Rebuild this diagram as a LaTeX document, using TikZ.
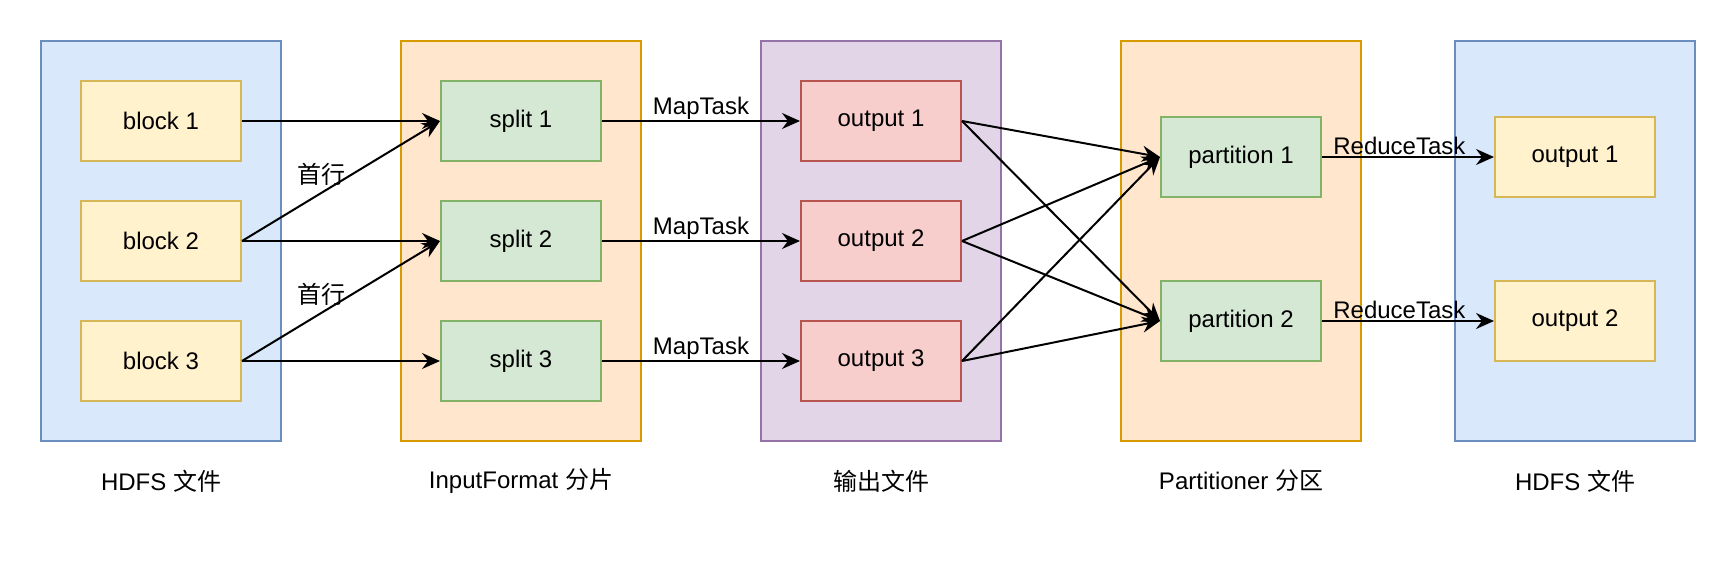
\documentclass[tikz,border=0pt]{standalone}
\usepackage{fontspec}
\setmainfont{Liberation Sans}
\newfontfamily\cjk{Noto Sans CJK SC}
\usetikzlibrary{arrows.meta}

\definecolor{blueFill}{HTML}{DAE8FC}
\definecolor{blueLine}{HTML}{6C8EBF}
\definecolor{yellowFill}{HTML}{FFF2CC}
\definecolor{yellowLine}{HTML}{D6B656}
\definecolor{orangeFill}{HTML}{FFE6CC}
\definecolor{orangeLine}{HTML}{D79B00}
\definecolor{greenFill}{HTML}{D5E8D4}
\definecolor{greenLine}{HTML}{82B366}
\definecolor{purpleFill}{HTML}{E1D5E7}
\definecolor{purpleLine}{HTML}{9673A6}
\definecolor{redFill}{HTML}{F8CECC}
\definecolor{redLine}{HTML}{B85450}

\begin{document}
\begin{tikzpicture}[x=1pt, y=-1pt, font=\fontsize{24}{28}\selectfont,
    group/.style={draw, line width=2pt, minimum width=240pt, minimum height=400pt, inner sep=0pt},
    box/.style={draw, line width=2pt, minimum width=160pt, minimum height=80pt, inner sep=0pt},
    flow/.style={-{Stealth[length=18pt, width=16pt, inset=6pt]}, line width=2pt},
    tag/.style={inner sep=1pt}]
    \useasboundingbox (0,0) rectangle (1736,562);

    % columns
    \node[group, fill=blueFill, draw=blueLine] (hdfsIn) at (161,241) {};
    \node[group, fill=orangeFill, draw=orangeLine] (inputFmt) at (521,241) {};
    \node[group, fill=purpleFill, draw=purpleLine] (mapOut) at (881,241) {};
    \node[group, fill=orangeFill, draw=orangeLine] (partitioner) at (1241,241) {};
    \node[group, fill=blueFill, draw=blueLine] (hdfsOut) at (1575,241) {};

    \node (lblHdfsIn) at (161,481) {HDFS {\cjk 文件}};
    \node (lblInputFmt) at (521,481) {InputFormat {\cjk 分片}};
    \node (lblMapOut) at (881,481) {\cjk 输出文件};
    \node (lblPartitioner) at (1241,481) {Partitioner {\cjk 分区}};
    \node (lblHdfsOut) at (1575,481) {HDFS {\cjk 文件}};

    % blocks, splits, map outputs
    \foreach \i/\y in {1/121, 2/241, 3/361} {
        \node[box, fill=yellowFill, draw=yellowLine] (block\i) at (161,\y) {block \i};
        \node[box, fill=greenFill, draw=greenLine] (split\i) at (521,\y) {split \i};
        \node[box, fill=redFill, draw=redLine] (out\i) at (881,\y) {output \i};
    }

    % partitions and reduce outputs
    \foreach \j/\y in {1/157, 2/321} {
        \node[box, fill=greenFill, draw=greenLine] (part\j) at (1241,\y) {partition \j};
        \node[box, fill=yellowFill, draw=yellowLine] (result\j) at (1575,\y) {output \j};
    }

    \draw[flow] (block1.east) -- (split1.west);
    \draw[flow] (block2.east) -- node[tag, pos=0.4, above=6pt] {\cjk 首行} (split1.west);
    \draw[flow] (block2.east) -- (split2.west);
    \draw[flow] (block3.east) -- node[tag, pos=0.4, above=6pt] {\cjk 首行} (split2.west);
    \draw[flow] (block3.east) -- (split3.west);

    \foreach \i in {1,2,3} {
        \draw[flow] (split\i.east) -- node[tag, midway, above=0pt] {MapTask} (out\i.west);
        \foreach \j in {1,2}
            \draw[flow] (out\i.east) -- (part\j.west);
    }

    \foreach \j in {1,2}
        \draw[flow] (part\j.east) -- node[tag, pos=0.45, above=0pt] {ReduceTask} (result\j.west);
\end{tikzpicture}
\end{document}
